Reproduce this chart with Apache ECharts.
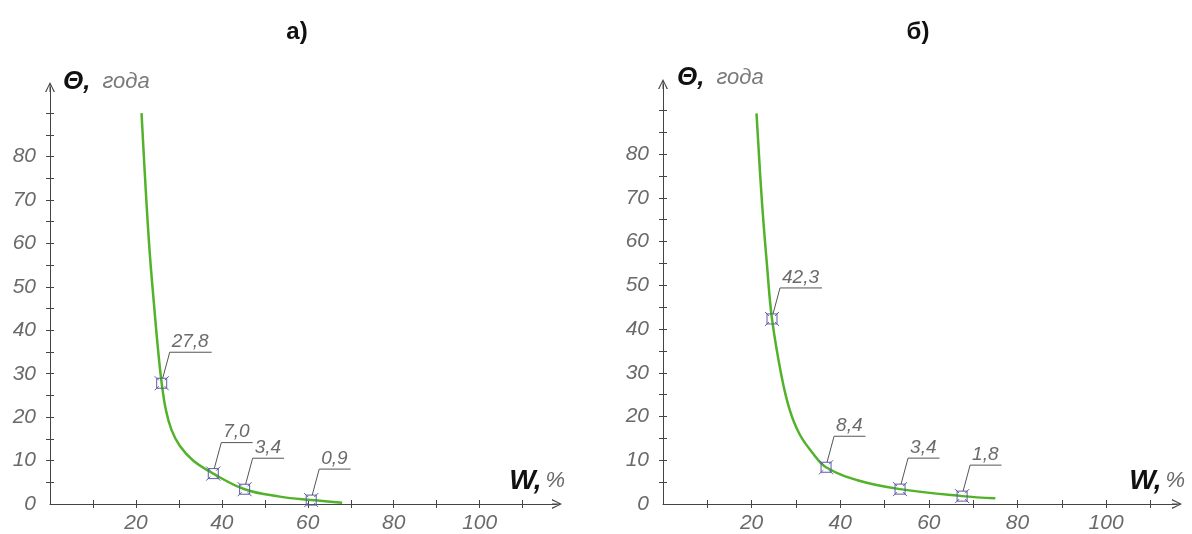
<!DOCTYPE html>
<html>
<head>
<meta charset="utf-8">
<script src="https://cdn.jsdelivr.net/npm/echarts@6/dist/echarts.min.js"></script>
<style>
html,body{margin:0;padding:0;background:#fff;}
#chart{width:1192px;height:534px;}
</style>
</head>
<body>
<div id="chart"></div>
<script>
// ---- Data ----
const titles = ['а)', 'б)'];
const yAxisName = ['Θ,', 'года'];
const xAxisName = ['W,', '%'];
const yTickLabels = [0, 10, 20, 30, 40, 50, 60, 70, 80];
const yMinorTicks = [5, 10, 15, 20, 25, 30, 35, 40, 45, 50, 55, 60, 65, 70, 75, 80, 85, 90];
const xTickLabels = [20, 40, 60, 80, 100];
const xMinorTicks = [10, 20, 30, 40, 50, 60, 70, 80, 90, 100, 110];

// chart а)
const curveA_W     = [21.3, 22.3, 23.2, 24.2, 25.1, 26.0, 27.0, 28.3, 30.2, 33.3, 38.0, 45.3, 53.5, 60.8, 68.0];
const curveA_Theta = [90,   72,   58,   46,   36,   27.8, 21.5, 17.0, 13.4, 10.0, 7.0,  3.4,  1.7,  0.9,  0.3];
const pointsA_W     = [26.0, 38.0, 45.3, 60.8];
const pointsA_Theta = [27.8, 7.0, 3.4, 0.9];

// chart б)
const curveB_W     = [21.1, 22.3, 23.5, 24.6, 26.7, 28.6, 30.8, 33.9, 36.8, 44.3, 53.5, 67.5, 75.0];
const curveB_Theta = [89.3, 69.5, 54.2, 42.3, 29.5, 21.5, 16.0, 11.5, 8.4,  5.3,  3.4,  1.8,  1.3];
const pointsB_W     = [24.6, 36.8, 53.5, 67.5];
const pointsB_Theta = [42.3, 8.4, 3.4, 1.8];

// ---- Helpers ----
const zip = (a, b) => a.map((v, i) => [v, b[i]]);
const fmt = v => v.toFixed(1).replace('.', ',');
const SANS = '"Liberation Sans", Arial, sans-serif';
const LBL_FONT = 'italic 19px "Liberation Sans", Arial, sans-serif';
const measureCtx = document.createElement('canvas').getContext('2d');
measureCtx.font = LBL_FONT;

const AXIS_COLOR = '#444';
const TEXT_GRAY = '#6a6a6a';
const CHEVRON = 'path://M5,0 L10,10 L8.6,10 L5.5,3 L5.5,10 L4.5,10 L4.5,3 L1.4,10 L0,10 Z';
const tickFont = {fontFamily: SANS, fontStyle: 'italic', fontSize: 21, color: TEXT_GRAY};

const grids = [
  {left: 50, top: 87, width: 507, height: 417, xMax: 118, yMax: 96},
  {left: 663, top: 84, width: 514, height: 420, xMax: 116, yMax: 96}
];

function makeX(gi, overlay) {
  const g = grids[gi];
  const ax = {
    type: 'value', gridIndex: gi, min: 0, max: g.xMax, position: 'bottom',
    splitLine: {show: false},
    axisTick: {show: true, customValues: xMinorTicks, length: 4, inside: !!overlay,
               lineStyle: {color: AXIS_COLOR, width: 1}},
  };
  if (overlay) {
    ax.axisLine = {show: false};
    ax.axisLabel = {show: false};
  } else {
    ax.axisLine = {show: true, onZero: false, lineStyle: {color: AXIS_COLOR, width: 1},
                   symbol: ['none', CHEVRON], symbolSize: [10, 14]};
    ax.axisLabel = Object.assign({show: true, customValues: xTickLabels, margin: 9}, tickFont);
    ax.name = '{w|' + xAxisName[0] + '}{p|' + xAxisName[1] + '}';
    ax.nameLocation = 'end';
    ax.nameGap = 8;
    ax.nameTextStyle = {
      align: 'right', verticalAlign: 'middle', padding: [0, 0, 46, 0],
      rich: {
        w: {fontFamily: SANS, fontWeight: 'bold', fontStyle: 'italic', fontSize: 28, color: '#111'},
        p: {fontFamily: SANS, fontStyle: 'italic', fontSize: 22, color: TEXT_GRAY, padding: [0, 0, 0, 4]}
      }
    };
  }
  return ax;
}

function makeY(gi, overlay) {
  const g = grids[gi];
  const ax = {
    type: 'value', gridIndex: gi, min: 0, max: g.yMax, position: 'left',
    splitLine: {show: false},
    axisTick: {show: true, customValues: yMinorTicks, length: 4, inside: !!overlay,
               lineStyle: {color: AXIS_COLOR, width: 1}},
  };
  if (overlay) {
    ax.axisLine = {show: false};
    ax.axisLabel = {show: false};
  } else {
    ax.axisLine = {show: true, onZero: false, lineStyle: {color: AXIS_COLOR, width: 1},
                   symbol: ['none', CHEVRON], symbolSize: [10, 14]};
    ax.axisLabel = Object.assign({show: true, customValues: yTickLabels, margin: 14}, tickFont);
    ax.name = '{t|' + yAxisName[0] + '}{g|' + yAxisName[1] + '}';
    ax.nameLocation = 'end';
    ax.nameGap = gi === 0 ? 5 : 6;
    ax.nameTextStyle = {
      align: 'left', verticalAlign: 'middle', padding: [0, 0, 0, gi === 0 ? 13 : 14],
      rich: {
        t: {fontFamily: SANS, fontWeight: 'bold', fontStyle: 'italic', fontSize: 26, color: '#111'},
        g: {fontFamily: SANS, fontStyle: 'italic', fontSize: 22, color: '#7a7a7a', padding: [0, 0, 0, 12]}
      }
    };
  }
  return ax;
}

function markerRender(params, api) {
  const w = api.value(0), th = api.value(1);
  const p = api.coord([w, th]);
  const txt = fmt(th);
  const tw = measureCtx.measureText(txt).width;
  const dx = 8, dy = 31;
  const topX = p[0] + dx, topY = p[1] - dy;
  const mc = '#5c5ca6';
  const s = 5;
  return {
    type: 'group',
    children: [
      {type: 'rect', shape: {x: p[0] - s, y: p[1] - s, width: 2 * s, height: 2 * s},
       style: {fill: 'none', stroke: mc, lineWidth: 1}},
      {type: 'line', shape: {x1: p[0] - s - 2, y1: p[1] - s - 2, x2: p[0] - s + 2, y2: p[1] - s + 2},
       style: {stroke: mc, lineWidth: 1}},
      {type: 'line', shape: {x1: p[0] + s + 2, y1: p[1] - s - 2, x2: p[0] + s - 2, y2: p[1] - s + 2},
       style: {stroke: mc, lineWidth: 1}},
      {type: 'line', shape: {x1: p[0] - s - 2, y1: p[1] + s + 2, x2: p[0] - s + 2, y2: p[1] + s - 2},
       style: {stroke: mc, lineWidth: 1}},
      {type: 'line', shape: {x1: p[0] + s + 2, y1: p[1] + s + 2, x2: p[0] + s - 2, y2: p[1] + s - 2},
       style: {stroke: mc, lineWidth: 1}},
      {type: 'polyline', shape: {points: [[p[0] + 1, p[1] - s], [topX, topY], [topX + tw + 5, topY]]},
       style: {fill: 'none', stroke: '#555', lineWidth: 1}},
      {type: 'text', x: topX + 2, y: topY - 1,
       style: {text: txt, font: LBL_FONT, fill: TEXT_GRAY, align: 'left', verticalAlign: 'bottom'}}
    ]
  };
}

function curveSeries(gi, W, T) {
  return {
    type: 'line', xAxisIndex: gi * 2, yAxisIndex: gi * 2,
    data: zip(W, T), showSymbol: false, symbol: 'none',
    smooth: 0.4,
    lineStyle: {color: '#52b22a', width: 2.5}, z: 3, silent: true
  };
}
function pointSeries(gi, W, T) {
  return {
    type: 'custom', xAxisIndex: gi * 2, yAxisIndex: gi * 2,
    data: zip(W, T), renderItem: markerRender, z: 4, silent: true
  };
}

const chart = echarts.init(document.getElementById('chart'), null, {renderer: 'canvas'});
chart.setOption({
  backgroundColor: '#fff',
  animation: false,
  title: [
    {text: titles[0], left: 292, top: 15, textAlign: 'center',
     textStyle: {fontFamily: SANS, fontWeight: 'bold', fontSize: 24, color: '#111'}},
    {text: titles[1], left: 913, top: 15, textAlign: 'center',
     textStyle: {fontFamily: SANS, fontWeight: 'bold', fontSize: 24, color: '#111'}}
  ],
  grid: grids.map(g => ({left: g.left, top: g.top, width: g.width, height: g.height,
                         containLabel: false, outerBoundsMode: 'none'})),
  xAxis: [makeX(0, false), makeX(0, true), makeX(1, false), makeX(1, true)],
  yAxis: [makeY(0, false), makeY(0, true), makeY(1, false), makeY(1, true)],
  series: [
    curveSeries(0, curveA_W, curveA_Theta),
    pointSeries(0, pointsA_W, pointsA_Theta),
    curveSeries(1, curveB_W, curveB_Theta),
    pointSeries(1, pointsB_W, pointsB_Theta)
  ]
});
</script>
</body>
</html>
